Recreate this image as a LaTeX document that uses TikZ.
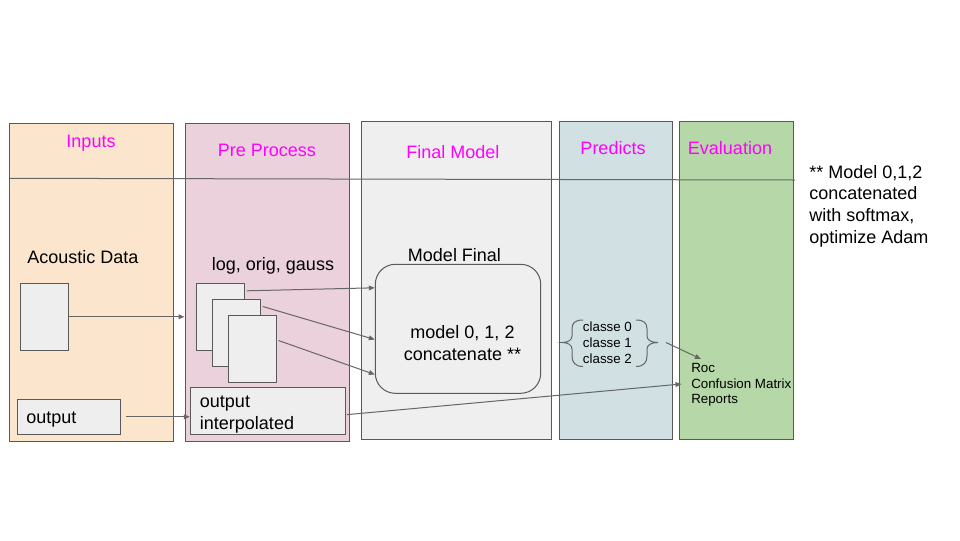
\documentclass[tikz,border=0pt]{standalone}
\usepackage{fontspec}
\setmainfont{Liberation Sans}
\usetikzlibrary{fit,arrows.meta}
\definecolor{cInputs}{HTML}{FCE5CD}
\definecolor{cPre}{HTML}{EAD1DC}
\definecolor{cFinal}{HTML}{EFEFEF}
\definecolor{cPred}{HTML}{D0E0E3}
\definecolor{cEval}{HTML}{B6D7A8}
\definecolor{cBorder}{HTML}{595959}
\definecolor{cBox}{HTML}{EEEEEE}
\definecolor{cLine}{HTML}{666666}
\definecolor{cTitle}{HTML}{FF00FF}
\tikzset{
  col/.style={draw=cBorder, line width=0.75pt, inner sep=0pt},
  smallbox/.style={draw=cBorder, fill=cBox, line width=0.75pt, inner sep=0pt},
  coltitle/.style={text=cTitle, inner sep=0pt, font=\fontsize{13.5pt}{16pt}\selectfont},
  bigtext/.style={inner sep=0pt, font=\fontsize{13.5pt}{16.5pt}\selectfont},
  smalltext/.style={inner sep=0pt, font=\fontsize{10pt}{12pt}\selectfont},
  conn/.style={draw=cLine, line width=0.75pt, -{Triangle[length=4.5pt,width=3.6pt]}},
  divider/.style={draw=cLine, line width=0.75pt},
}
\begin{document}
\begin{tikzpicture}[x=0.75pt,y=-0.75pt]
\useasboundingbox (0,0) rectangle (960,540);
% columns
\node[col, fill=cInputs, fit={(9.5,123.3) (173.5,441)}] (inputs) {};
\node[col, fill=cPre, fit={(185,123.3) (349.5,441)}] (pre) {};
\node[col, fill=cFinal, fit={(361.3,121.7) (551.7,439.3)}] (final) {};
\node[col, fill=cPred, fit={(559.3,121.7) (672.7,439.3)}] (pred) {};
\node[col, fill=cEval, fit={(679.3,121.7) (793.3,439.3)}] (eval) {};
% titles
\node[coltitle] (tInputs) at (91,143) {Inputs};
\node[coltitle] (tPre) at (267,150.5) {Pre Process};
\node[coltitle] (tFinal) at (453,152.5) {Final Model};
\node[coltitle] (tPred) at (613,148.5) {Predicts};
\node[coltitle] (tEval) at (730,148.5) {Evaluation};
% divider line
\coordinate (divEnd) at (795,180);
\draw[divider] (inputs.west |- 0,178.3) -- (divEnd);
% inputs
\node[bigtext, anchor=west] (acText) at (27,257) {Acoustic Data};
\node[smallbox, fit={(20,283.3) (68.7,350.3)}] (acoustic) {};
\node[smallbox, fit={(17.3,399.3) (120.3,434.3)}] (output) {};
\node[bigtext, anchor=west] (outText) at (26,419.5) {output};
% pre process
\node[bigtext] (lgText) at (273,266) {log, orig, gauss};
\node[smallbox, fit={(196.3,283.3) (244.3,350.3)}] (b1) {};
\node[smallbox, fit={(212.3,299.3) (260.3,366.3)}] (b2) {};
\node[smallbox, fit={(228.3,315.3) (276.3,382.3)}] (b3) {};
\node[smallbox, fit={(190.3,387.3) (345.3,434)}] (outint) {};
\node[bigtext, anchor=west, align=left] (outintText) at (199.7,414.5) {output\\interpolated};
% final model
\node[bigtext] (mfTitle) at (454.5,255) {Model Final};
\node[draw=cBorder, fill=cFinal, line width=0.75pt, rounded corners=15pt, inner sep=0pt,
      fit={(375.3,264.3) (540.7,393.3)}] (mf) {};
\node[bigtext, align=center] (mfText) at (462.5,343) {model 0, 1, 2\\concatenate **};
% predicts
\node[smalltext, anchor=west, align=left] (classes) at (582.7,342.5) {classe 0\\classe 1\\classe 2};
\draw[cLine, line width=0.75pt] (583,320) .. controls (575,320) and (572,323) .. (572,329) -- (572,336)
  .. controls (572,340) and (568,342.5) .. (562,342.5)
  .. controls (568,342.5) and (572,345) .. (572,349) -- (572,356)
  .. controls (572,362) and (575,366.5) .. (583,366.5);
\coordinate (brR) at (658,342.5);
\draw[cLine, line width=0.75pt] (636,320) .. controls (644,320) and (647,323) .. (647,329) -- (647,336)
  .. controls (647,340) and (651,342.5) .. (brR)
  .. controls (651,342.5) and (647,345) .. (647,349) -- (647,356)
  .. controls (647,362) and (644,366.5) .. (636,366.5);
% evaluation
\node[smalltext, anchor=west] (roc) at (691,368) {Roc};
\node[smalltext, anchor=west] (conf) at (691,384) {Confusion Matrix};
\node[smalltext, anchor=west] (rep) at (691,400) {Reports};
% note
\node[bigtext, anchor=west, align=left, font=\fontsize{13.5pt}{16.3pt}\selectfont] (note) at (809,206)
  {** Model 0,1,2\\concatenated\\with softmax,\\optimize Adam};
% connectors
\draw[conn] (acoustic.east) -- (acoustic.east -| pre.west);
\draw[conn] ([xshift=4]output.east) -- (output.east -| outint.west);
\draw[conn] ([shift={(2,8)}]b1.north east) -- ([shift={(0,24)}]mf.north west);
\draw[conn] ([shift={(2,7.7)}]b2.north east) -- ([shift={(0,75.7)}]mf.north west);
\draw[conn] ([shift={(1.7,25.7)}]b3.north east) -- ([shift={(0,110.7)}]mf.north west);
\draw[conn] ([shift={(1,4)}]outint.east) -- ([xshift=2]eval.west |- conf.west);
\draw[conn] ([xshift=6]brR) -- ([shift={(10,-9)}]roc.west);
\end{tikzpicture}
\end{document}
